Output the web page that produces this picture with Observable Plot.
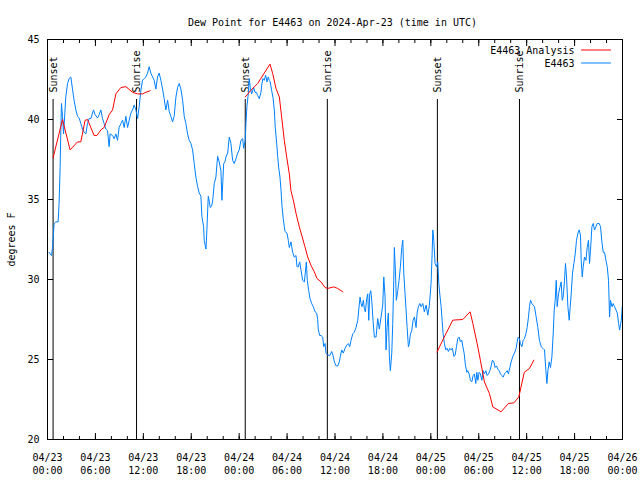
<!DOCTYPE html>
<html>
<head>
<meta charset="utf-8">
<script src="https://cdn.jsdelivr.net/npm/d3@7"></script>
<script src="https://cdn.jsdelivr.net/npm/@observablehq/plot@0.6"></script>
<style>
  html, body { margin: 0; padding: 0; background: #fff; }
</style>
</head>
<body>
<div id="chart"></div>
<script>
// ---- data (hours after 2024-04-23 00:00 UTC) ----
const titleText = "Dew Point for E4463 on 2024-Apr-23 (time in UTC)";
const yLabel = "degrees F";
const seriesNames = ["E4463 Analysis", "E4463"];
const seriesColors = ["#ff0000", "#0080ff"];

const yTicks = [20, 25, 30, 35, 40, 45];
const xTickHours = [0, 6, 12, 18, 24, 30, 36, 42, 48, 54, 60, 66, 72];
const xTickLabels = ["04/23\n00:00", "04/23\n06:00", "04/23\n12:00", "04/23\n18:00",
  "04/24\n00:00", "04/24\n06:00", "04/24\n12:00", "04/24\n18:00",
  "04/25\n00:00", "04/25\n06:00", "04/25\n12:00", "04/25\n18:00", "04/26\n00:00"];
const xMinorHours = d3.range(0, 73, 2);

const eventLabels = ["Sunset", "Sunrise", "Sunset", "Sunrise", "Sunset", "Sunrise"];
const eventHours = [0.70, 11.15, 24.76, 35.04, 48.82, 59.10];

// analysis (red), three segments
const redSeg = [1,1,1,1,1,1,1,1,1,1,1,1,1,1,1,1,1,1,1,1,1,
  2,2,2,2,2,2,2,2,2,2,2,2,2,2,2,2,2,2,2,2,2,2,2,2,2,2,2,2,
  3,3,3,3,3,3,3,3,3,3,3,3,3,3,3,3,3,3];
const redHours = [0.70,1.88,2.83,3.76,4.17,4.71,5.01,5.84,6.18,6.77,7.09,7.72,8.15,8.56,9.19,9.81,10.65,11.28,11.90,12.32,12.86,
  24.76,25.48,26.32,27.14,27.86,28.20,28.61,29.03,29.32,29.65,29.95,30.28,30.48,30.83,31.12,31.53,31.83,32.24,32.58,32.99,33.41,33.75,34.25,34.75,35.09,35.84,36.34,36.97,
  48.78,49.79,50.75,52.00,52.92,53.26,53.80,54.20,54.71,55.34,55.76,56.80,57.70,58.40,59.02,59.70,60.35,60.90];
const redDew = [37.6,40.0,38.1,38.6,38.6,39.95,40.0,39.0,39.0,39.4,39.5,40.3,40.6,41.6,42.0,42.05,41.7,41.6,41.6,41.7,41.8,
  41.41,41.83,42.25,42.9,43.46,42.87,41.94,41.41,40.16,38.7,37.66,36.6,35.58,34.85,34.13,33.29,32.77,32.04,31.41,30.89,30.48,30.06,29.85,29.5,29.44,29.54,29.44,29.23,
  25.47,26.52,27.46,27.5,27.98,27.25,26.0,24.96,23.6,22.87,22.04,21.73,22.25,22.29,22.66,24.2,24.44,24.96];

// observations (blue)
const blueHours = [0.20,0.33,0.50,0.63,0.75,0.83,1.04,1.33,1.45,1.58,1.67,1.75,1.88,2.01,2.17,2.29,2.51,2.71,2.92,3.13,3.33,3.55,3.76,3.96,4.17,4.39,4.59,4.80,5.01,5.21,5.43,5.76,5.96,6.27,6.47,6.68,6.89,7.09,7.31,7.52,7.72,7.84,8.15,8.35,8.56,8.77,8.97,9.19,9.40,9.60,9.81,10.03,10.23,10.44,10.65,10.85,11.07,11.28,11.48,11.69,11.90,12.11,12.32,12.53,12.73,12.94,13.16,13.36,13.57,13.78,13.98,14.20,14.41,14.61,14.82,15.04,15.24,15.45,15.66,15.86,16.08,16.29,16.49,16.70,16.92,17.12,17.33,17.54,17.74,17.96,18.17,18.37,18.58,18.80,19.00,19.21,19.34,19.55,19.62,19.84,19.96,20.13,20.25,20.38,20.55,20.68,20.88,21.09,21.30,21.50,21.72,21.84,22.06,22.22,22.34,22.56,22.76,22.97,23.18,23.38,23.60,23.81,24.01,24.22,24.44,24.56,24.76,24.85,24.97,25.14,25.26,25.39,25.56,25.69,25.81,25.98,26.14,26.32,26.52,26.73,26.85,26.98,27.14,27.32,27.48,27.64,27.77,27.89,28.07,28.23,28.40,28.52,28.70,28.82,28.95,29.11,29.24,29.36,29.52,29.65,29.74,29.99,30.15,30.28,30.49,30.70,30.90,31.12,31.24,31.40,31.58,31.74,31.95,32.16,32.28,32.41,32.53,32.71,32.87,33.08,33.28,33.50,33.71,33.83,33.91,34.09,34.25,34.46,34.59,34.75,34.87,35.09,35.38,35.59,35.75,35.92,36.13,36.34,36.54,36.67,36.84,37.04,37.26,37.47,37.67,37.84,38.01,38.22,38.42,38.63,38.85,38.97,39.14,39.26,39.39,39.55,39.67,39.80,39.97,40.10,40.23,40.35,40.48,40.60,40.76,40.93,41.14,41.35,41.55,41.77,41.98,42.11,42.27,42.39,42.52,42.68,42.81,42.93,43.11,43.23,43.36,43.43,43.56,43.68,43.86,44.02,44.19,44.36,44.49,44.61,44.77,44.90,45.03,45.19,45.31,45.44,45.61,45.78,45.94,46.15,46.28,46.44,46.62,46.78,46.99,47.19,47.41,47.62,47.82,48.03,48.16,48.25,48.37,48.53,48.70,48.87,49.00,49.12,49.29,49.41,49.54,49.70,49.87,50.04,50.20,50.38,50.54,50.70,50.88,51.04,51.21,51.38,51.54,51.71,51.88,52.01,52.17,52.33,52.51,52.63,52.79,52.96,53.13,53.30,53.46,53.63,53.76,53.88,54.05,54.21,54.39,54.55,54.71,54.89,55.05,55.21,55.39,55.55,55.71,55.89,56.05,56.22,56.39,56.55,56.72,56.89,57.06,57.22,57.39,57.56,57.72,57.89,58.06,58.27,58.47,58.68,58.81,58.93,59.10,59.22,59.40,59.56,59.72,59.90,60.06,60.23,60.35,60.48,60.65,60.81,60.98,61.19,61.40,61.60,61.82,62.03,62.23,62.41,62.53,62.66,62.82,62.98,63.16,63.32,63.45,63.57,63.70,63.82,63.99,64.16,64.32,64.45,64.57,64.74,64.86,64.99,65.16,65.33,65.45,65.58,65.74,65.91,66.08,66.24,66.42,66.58,66.74,66.83,66.96,67.08,67.24,67.42,67.58,67.74,67.87,67.99,68.17,68.33,68.50,68.67,68.83,69.08,69.25,69.42,69.59,69.75,69.92,70.09,70.25,70.38,70.50,70.68,70.84,71.00,71.18,71.35,71.51,71.64,71.85,71.97];
const blueDew = [31.7,31.6,31.5,32.0,32.9,33.5,33.6,33.6,34.75,37.0,39.3,41.0,40.2,39.1,40.4,41.4,42.25,42.56,42.66,41.9,41.2,40.6,40.2,40.1,39.75,39.4,39.2,39.1,39.75,40.06,40.06,40.6,40.3,40.1,40.3,40.6,40.06,39.75,39.4,39.3,38.3,39.1,39.0,38.8,39.1,38.7,39.5,39.75,39.96,39.5,40.2,39.5,39.96,40.4,40.6,40.9,40.6,40.06,40.8,41.8,42.45,42.56,42.66,42.9,43.3,42.9,42.66,42.45,41.9,42.66,42.9,42.45,41.9,41.3,40.6,41.2,40.5,40.2,39.85,40.2,41.4,42.0,42.25,41.9,41.2,40.2,39.75,39.1,38.7,38.5,38.1,37.25,36.4,35.8,35.4,35.2,33.9,33.3,32.45,31.9,33.1,35.2,34.9,34.5,34.6,34.9,36.0,36.4,37.7,37.35,36.8,34.95,37.25,37.35,37.65,37.9,38.9,38.5,37.45,37.25,37.55,37.9,38.1,38.7,38.8,38.2,38.7,39.75,40.8,41.6,42.56,42.0,41.6,41.8,42.0,41.7,41.7,41.5,41.3,41.7,42.25,42.56,42.45,42.77,42.35,42.66,42.45,42.35,41.8,41.4,40.6,39.5,38.5,37.7,37.0,36.4,35.6,34.6,33.8,33.3,33.0,32.9,32.45,32.0,32.35,31.7,31.4,31.5,30.8,30.8,31.1,30.6,29.95,29.85,30.4,31.1,29.95,29.3,28.8,28.5,28.3,27.98,27.9,27.5,26.85,26.5,26.5,26.4,25.8,26.0,25.4,25.27,25.27,25.5,25.27,24.85,24.6,24.6,24.85,25.2,25.6,25.4,25.7,25.9,26.0,25.8,26.2,26.6,26.7,27.0,27.45,28.1,28.9,28.5,28.3,28.7,28.2,27.98,28.8,29.1,27.45,29.1,29.3,28.7,27.45,26.4,26.4,27.56,26.9,27.66,28.4,30.16,28.9,25.6,27.0,27.9,25.16,24.3,25.4,27.25,29.95,32.0,30.6,28.7,29.3,29.95,30.8,32.0,32.45,30.4,29.1,28.1,27.0,25.8,26.0,26.6,26.8,27.45,27.66,27.0,27.9,28.3,28.5,28.3,28.5,27.98,28.4,27.77,28.4,29.75,31.6,33.1,32.45,31.0,30.8,31.1,29.75,29.1,28.3,27.45,26.6,26.0,25.6,25.7,25.5,25.7,25.6,25.7,25.2,25.27,25.8,26.3,26.4,26.1,26.2,25.8,25.4,24.65,24.2,24.3,24.1,23.7,23.6,24.0,24.1,23.5,24.2,23.7,24.2,24.1,23.7,24.3,24.1,24.3,24.0,24.1,24.3,24.6,24.96,24.85,24.5,24.6,24.4,24.3,24.1,24.0,23.9,24.1,24.2,24.3,24.1,24.5,24.85,25.2,25.4,25.7,26.1,26.4,26.3,26.0,25.8,26.2,26.3,26.6,27.0,27.66,28.3,28.7,28.5,28.4,28.3,27.66,27.0,26.2,25.8,25.7,25.6,24.3,23.5,24.3,24.85,24.5,25.16,26.6,28.1,28.7,29.95,28.3,29.1,29.5,29.85,28.7,28.9,29.95,31.0,30.16,28.3,27.45,28.3,29.1,30.4,31.0,31.6,32.45,32.9,33.1,32.77,31.2,30.16,30.8,31.4,31.2,32.0,32.45,31.0,31.8,33.3,33.5,33.1,33.3,33.5,33.5,33.3,32.35,31.7,31.7,31.2,30.8,29.95,27.66,28.7,28.3,28.5,28.3,28.1,27.9,27.25,26.85,27.45,28.3];

// ---- build tables ----
const t0 = Date.UTC(2024, 3, 23);
const toDate = h => new Date(t0 + h * 3600000);
const blue = blueHours.map((h, i) => ({t: toDate(h), v: blueDew[i]}));
const red = redHours.map((h, i) => ({t: toDate(h), v: redDew[i], seg: redSeg[i]}));
const events = eventHours.map((h, i) => ({t: toDate(h), label: eventLabels[i]}));
const xTicks = xTickHours.map(toDate);
const xMinor = xMinorHours.map(toDate);

const lineShape = {draw(ctx, l) { ctx.moveTo(0, 0); ctx.lineTo(0, -l); }};
const blank = () => "";

const chart = Plot.plot({
  width: 640,
  height: 480,
  marginLeft: 47,
  marginRight: 18,
  marginTop: 39,
  marginBottom: 41,
  style: {fontFamily: "'DejaVu Sans Mono', 'Liberation Mono', monospace", fontSize: "10px", background: "#fff", color: "#000"},
  x: {type: "utc", domain: [toDate(0), toDate(72)], axis: null},
  y: {domain: [20, 45], axis: null},
  marks: [
    // sunrise / sunset markers
    Plot.ruleX(events, {x: "t", insetTop: 60, stroke: "#000", strokeWidth: 1}),
    Plot.text(events, {x: "t", text: "label", frameAnchor: "top", rotate: -90, textAnchor: "start", dy: 53, dx: -3.5, fill: "#000"}),
    // data
    Plot.line(blue, {x: "t", y: "v", stroke: seriesColors[1], strokeWidth: 1}),
    Plot.line(red, {x: "t", y: "v", z: "seg", stroke: seriesColors[0], strokeWidth: 1}),
    // frame
    Plot.frame({stroke: "#000"}),
    // inward ticks
    Plot.axisY(yTicks, {anchor: "left", tickSize: -6, tickFormat: blank, label: null}),
    Plot.axisY(yTicks, {anchor: "right", tickSize: -6, tickFormat: blank, label: null}),
    Plot.axisX(xTicks, {anchor: "bottom", tickSize: -6, tickFormat: blank, label: null}),
    Plot.axisX(xTicks, {anchor: "top", tickSize: -6, tickFormat: blank, label: null}),
    Plot.axisX(xMinor, {anchor: "bottom", tickSize: -3, tickFormat: blank, label: null}),
    Plot.axisX(xMinor, {anchor: "top", tickSize: -3, tickFormat: blank, label: null}),
    // tick labels
    Plot.axisY(yTicks, {anchor: "left", tickSize: 0, tickPadding: 8, tickFormat: d => String(d),
      label: yLabel, labelAnchor: "center", labelOffset: 40, labelArrow: "none"}),
    Plot.axisX(xTicks, {anchor: "bottom", tickSize: 0, tickPadding: 12, lineHeight: 1.3,
      tickFormat: (d, i) => xTickLabels[i], label: null}),
    // title
    Plot.text([titleText], {text: d => d, frameAnchor: "top", dy: -21, dx: -2.5, fill: "#000"}),
    // legend
    Plot.text([seriesNames[0]], {text: d => d, frameAnchor: "top-right", textAnchor: "end", dx: -48, dy: 7.5, fill: "#000"}),
    Plot.text([seriesNames[1]], {text: d => d, frameAnchor: "top-right", textAnchor: "end", dx: -48, dy: 20.5, fill: "#000"}),
    Plot.vector([seriesNames[0]], {frameAnchor: "top-right", dx: -12, dy: 10.5, rotate: 90, length: 29, anchor: "end", shape: lineShape, stroke: seriesColors[0], strokeWidth: 1}),
    Plot.vector([seriesNames[1]], {frameAnchor: "top-right", dx: -12, dy: 23.5, rotate: 90, length: 29, anchor: "end", shape: lineShape, stroke: seriesColors[1], strokeWidth: 1})
  ]
});
document.getElementById("chart").appendChild(chart);
</script>
</body>
</html>
